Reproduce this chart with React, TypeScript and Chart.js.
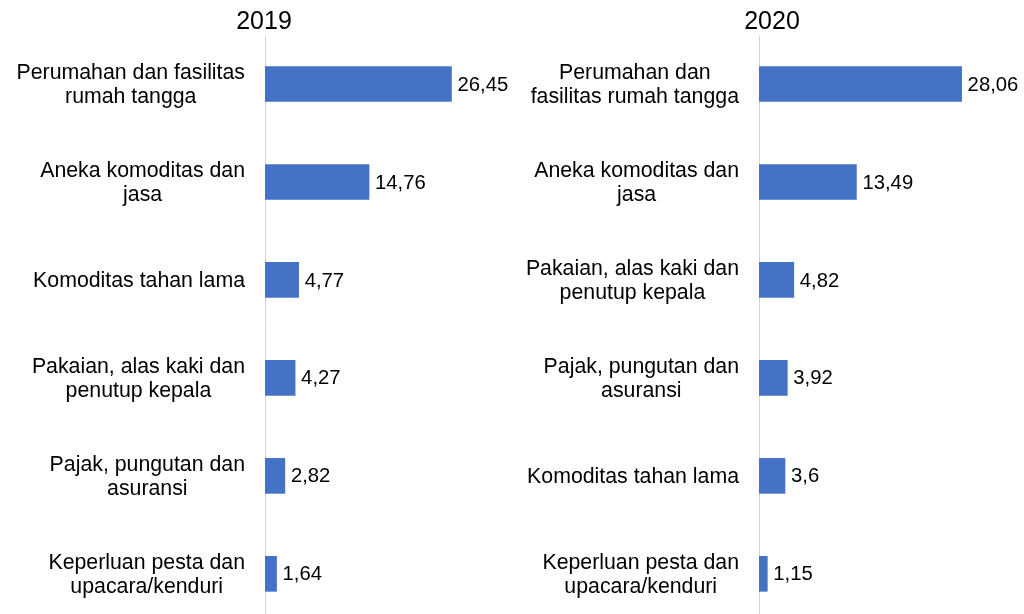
import React, { useEffect, useRef } from "react";
import { Chart, registerables } from "chart.js";

Chart.register(...registerables);

const titles = ["2019", "2020"];

const labels2019: string[][] = [
  ["Perumahan dan fasilitas", "rumah tangga"],
  ["Aneka komoditas dan", "jasa"],
  ["Komoditas tahan lama"],
  ["Pakaian, alas kaki dan", "penutup kepala"],
  ["Pajak, pungutan dan", "asuransi"],
  ["Keperluan pesta dan", "upacara/kenduri"],
];
const values2019 = [26.45, 14.76, 4.77, 4.27, 2.82, 1.64];

const labels2020: string[][] = [
  ["Perumahan dan", "fasilitas rumah tangga"],
  ["Aneka komoditas dan", "jasa"],
  ["Pakaian, alas kaki dan", "penutup kepala"],
  ["Pajak, pungutan dan", "asuransi"],
  ["Komoditas tahan lama"],
  ["Keperluan pesta dan", "upacara/kenduri"],
];
const values2020 = [28.06, 13.49, 4.82, 3.92, 3.6, 1.15];

const FONT = '"Liberation Sans", Arial, Helvetica, sans-serif';
const BAR_COLOR = "#4472C4";

type PanelProps = {
  title: string;
  labels: string[][];
  values: number[];
  width: number;
  axisWidth: number;
  xMax: number;
  titleOffset: number;
};

function Panel({ title, labels, values, width, axisWidth, xMax, titleOffset }: PanelProps) {
  const ref = useRef<HTMLCanvasElement | null>(null);

  useEffect(() => {
    if (!ref.current) return;
    const customDraw = {
      id: "customDraw",
      afterDatasetsDraw(chart: any) {
        const ctx = chart.ctx;
        const area = chart.chartArea;
        const yScale = chart.scales.y;
        ctx.save();
        ctx.fillStyle = "#000";
        // title
        ctx.font = `25px ${FONT}`;
        ctx.textAlign = "center";
        ctx.textBaseline = "middle";
        ctx.fillText(title, area.left + titleOffset, 22);
        // category labels (right-aligned block, centered lines)
        ctx.font = `21.3px ${FONT}`;
        const lineH = 24;
        labels.forEach((lines, i) => {
          const yc = yScale.getPixelForValue(i);
          const maxW = Math.max(...lines.map((l) => ctx.measureText(l).width));
          const right = area.left - 20;
          const cx = right - maxW / 2;
          const y0 = yc - ((lines.length - 1) * lineH) / 2;
          lines.forEach((l, j) => {
            ctx.fillText(l, cx, y0 + j * lineH + 1);
          });
        });
        // value labels
        ctx.font = `20.3px ${FONT}`;
        ctx.textAlign = "left";
        const meta = chart.getDatasetMeta(0);
        meta.data.forEach((el: any, i: number) => {
          const txt = String(values[i]).replace(".", ",");
          ctx.fillText(txt, el.x + 6, el.y + 1);
        });
        ctx.restore();
      },
    };

    const chart = new Chart(ref.current, {
      type: "bar",
      data: {
        datasets: [
          {
            data: values.map((v, i) => ({ x: v, y: i })),
            backgroundColor: BAR_COLOR,
            borderWidth: 0,
            barThickness: 35,
          },
        ],
      },
      options: {
        indexAxis: "y",
        responsive: false,
        animation: false,
        layout: { padding: { top: 36, bottom: 0, left: 0, right: 0 } },
        plugins: {
          legend: { display: false },
          tooltip: { enabled: false },
          title: { display: false },
        },
        scales: {
          x: {
            type: "linear",
            min: 0,
            max: xMax,
            display: false,
          },
          y: {
            type: "linear",
            reverse: true,
            offset: false,
            min: -0.49,
            max: 5.41,
            grid: { display: false, drawTicks: false, offset: false },
            border: { display: true, color: "#d4d4d4", width: 1 },
            ticks: { display: false },
            afterBuildTicks(scale: any) {
              scale.ticks = labels.map((_, i) => ({ value: i }));
            },
            afterFit(scale: any) {
              scale.width = axisWidth;
            },
          },
        },
      } as any,
      plugins: [customDraw],
    });
    return () => chart.destroy();
  }, []);

  return <canvas ref={ref} width={width} height={614} style={{ display: "block", width, height: 614 }} />;
}

export default function App() {
  return (
    <div
      style={{
        position: "fixed",
        left: 0,
        top: 0,
        width: 1024,
        height: 614,
        background: "#fff",
        overflow: "hidden",
      }}
    >
      <div style={{ position: "absolute", left: 0, top: 0 }}>
        <Panel
          title={titles[0]}
          labels={labels2019}
          values={values2019}
          width={520}
          axisWidth={265}
          xMax={36.17}
          titleOffset={-1}
        />
      </div>
      <div style={{ position: "absolute", left: 520, top: 0 }}>
        <Panel
          title={titles[1]}
          labels={labels2020}
          values={values2020}
          width={504}
          axisWidth={239}
          xMax={36.7}
          titleOffset={13}
        />
      </div>
    </div>
  );
}
